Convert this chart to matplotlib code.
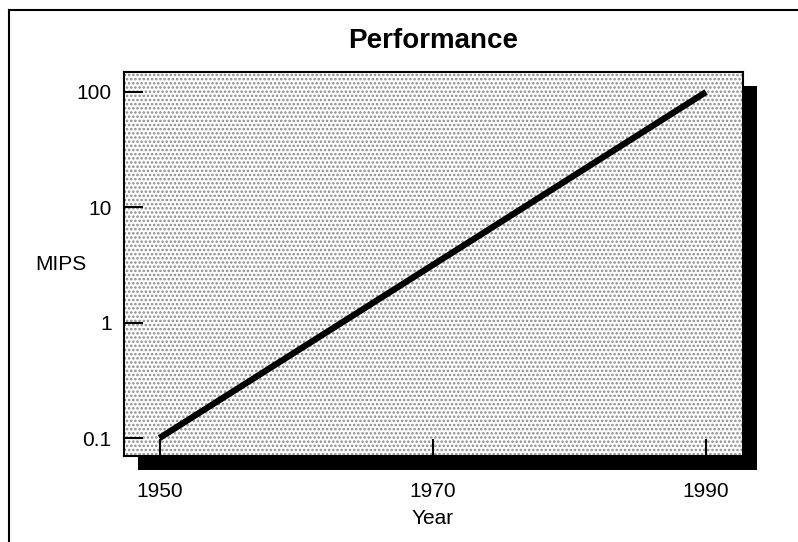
import matplotlib
matplotlib.use("Agg")
import matplotlib.pyplot as plt
from matplotlib.patches import Rectangle
from matplotlib.lines import Line2D

years = [1950, 1990]
mips = [0.1, 100]
x_ticks = [1950, 1970, 1990]
y_ticks = [0.1, 1, 10, 100]
y_tick_labels = ["0.1", "1", "10", "100"]

plt.rcParams["font.family"] = ["Liberation Sans", "DejaVu Sans"]
plt.rcParams["hatch.linewidth"] = 1.2

W, H = 798, 542
fig = plt.figure(figsize=(W / 100, H / 100), dpi=100)

# axes box in pixels (left, top, right, bottom)
l, t, r, b = 124, 72, 743, 456
ax_rect = [l / W, 1 - b / H, (r - l) / W, (b - t) / H]

# drop shadow behind the plot area
dx, dy = 14, 14
shadow = Rectangle(((l + dx) / W, 1 - (b + dy) / H), (r - l) / W, (b - t) / H,
                   transform=fig.transFigure, facecolor="black", edgecolor="none", zorder=0)
fig.add_artist(shadow)

# outer frame (left and top edges)
fig.add_artist(Line2D([9 / W, 9 / W], [0, 1 - 10 / H], transform=fig.transFigure, color="black", lw=1.5))
fig.add_artist(Line2D([9 / W, 1], [1 - 10 / H, 1 - 10 / H], transform=fig.transFigure, color="black", lw=1.5))

ax = fig.add_axes(ax_rect, zorder=1)
ax.patch.set_facecolor("white")
# stippled background
ax.add_patch(Rectangle((0, 0), 1, 1, transform=ax.transAxes, facecolor="white",
                       edgecolor="#8a8a8a", hatch="....", lw=0, zorder=0))

ax.plot(years, mips, color="black", lw=4.5, solid_capstyle="butt", zorder=3)

ax.set_yscale("log")
ax.set_xlim(1947.4, 1992.7)
ax.set_ylim(10 ** -1.156, 10 ** 2.173)
ax.set_xticks(x_ticks)
ax.set_xticklabels([str(v) for v in x_ticks], fontsize=15)
ax.set_yticks(y_ticks)
ax.set_yticklabels(y_tick_labels, fontsize=15)
ax.minorticks_off()
ax.tick_params(axis="y", direction="in", length=14, width=1.5, pad=9)
ax.tick_params(axis="x", direction="in", length=12, width=1.5, pad=19)
for s in ax.spines.values():
    s.set_linewidth(1.5)
    s.set_zorder(4)

fig.text(433 / W, 1 - 41 / H, "Performance", ha="center", va="center", fontsize=20, fontweight="bold")
fig.text(61 / W, 1 - 265 / H, "MIPS", ha="center", va="center", fontsize=15)
fig.text(433 / W, 1 - 519 / H, "Year", ha="center", va="center", fontsize=15)

fig.savefig("out.png", dpi=100)
